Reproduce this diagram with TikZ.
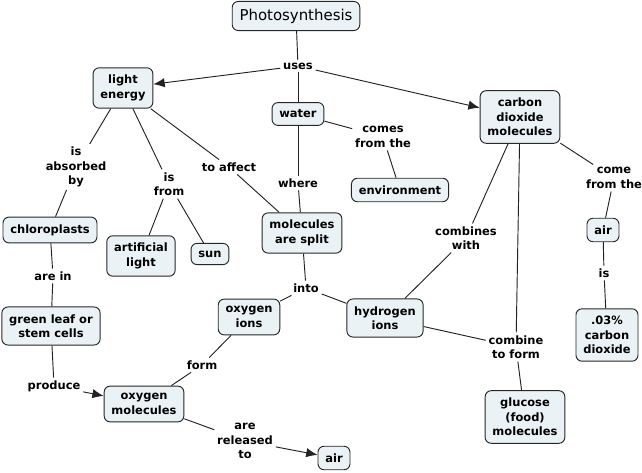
\documentclass[tikz,border=0pt]{standalone}
\usepackage{fontspec}
\setmainfont{DejaVu Sans}
\usetikzlibrary{arrows.meta}
\definecolor{conceptfill}{HTML}{EBF2F5}
\definecolor{linkgray}{HTML}{222222}

\begin{document}
\begin{tikzpicture}[x=0.75pt,y=-0.75pt,
    concept/.style={draw=black!85, fill=conceptfill, rounded corners=4.5pt,
      align=center, line width=0.7pt, inner xsep=5.5pt, inner ysep=5.5pt,
      font=\fontsize{8.6}{10.9}\selectfont\bfseries},
    phrase/.style={align=center, inner sep=2pt,
      font=\fontsize{8.6}{10.9}\selectfont\bfseries},
    link/.style={draw=linkgray, line width=0.7pt},
    arr/.style={link, -{Latex[length=8.5pt,width=7pt]}}]
    \useasboundingbox (0,0) rectangle (642,473);

    % concepts and linking phrases
    \node[concept, font=\fontsize{11.2}{12}\selectfont] (photo) at (296,16) {Photosynthesis};
    \node[phrase] (uses) at (298,66) {uses};
    \node[concept] (light) at (123,88) {light\\energy};
    \node[concept] (water) at (298,114) {water};
    \node[concept] (co2) at (520,117) {carbon\\dioxide\\molecules};
    \node[phrase] (comes) at (383,137) {comes\\from the};
    \node[concept] (env) at (400,190) {environment};
    \node[phrase] (absorbed) at (76,167) {is\\absorbed\\by};
    \node[phrase] (isfrom) at (169,184) {is\\from};
    \node[phrase] (affect) at (229,167) {to affect};
    \node[phrase] (where) at (298,183) {where};
    \node[concept] (split) at (302,233) {molecules\\are split};
    \node[phrase] (combines) at (466,238) {combines\\with};
    \node[phrase] (comefrom) at (614,178) {come\\from the};
    \node[concept] (airtop) at (603,230) {air};
    \node[concept] (chloro) at (50,230) {chloroplasts};
    \node[concept] (artificial) at (141,256) {artificial\\light};
    \node[concept] (sun) at (210,254) {sun};
    \node[phrase] (arein) at (53,276) {are in};
    \node[phrase] (into) at (306,288) {into};
    \node[concept] (leaf) at (51,326) {green leaf or\\stem cells};
    \node[concept] (oions) at (249,317) {oxygen\\ions};
    \node[concept] (hions) at (385,318) {hydrogen\\ions};
    \node[phrase] (is) at (604,273) {is};
    \node[concept] (pct) at (607,335) {.03\%\\carbon\\dioxide};
    \node[phrase] (form) at (202,365) {form};
    \node[phrase] (produce) at (54,386) {produce};
    \node[concept] (omol) at (144,404) {oxygen\\molecules};
    \node[phrase] (combine) at (516,347) {combine\\to form};
    \node[phrase] (released) at (245,441) {are\\released\\to};
    \node[concept] (glucose) at (525,417) {glucose\\(food)\\molecules};
    \node[concept] (airbot) at (334,458) {air};

    % plain links
    \foreach \a/\b in {photo/uses, uses/water, light/absorbed, absorbed/chloro,
        light/isfrom, isfrom/artificial, isfrom/sun, light/affect, affect/split,
        water/where, where/split, water/comes, comes/env, co2/combines,
        combines/hions, co2/combine, combine/glucose, hions/combine,
        co2/comefrom, comefrom/airtop, airtop/is, is/pct, chloro/arein,
        arein/leaf, leaf/produce, split/into, into/oions, into/hions,
        oions/form, form/omol, omol/released}
      \draw[link] (\a) -- (\b);

    % arrows
    \draw[arr] (uses) -- (light);
    \draw[arr] (uses) -- (co2);
    \draw[arr] (produce) -- (omol);
    \draw[arr] (released) -- (airbot);
\end{tikzpicture}
\end{document}
